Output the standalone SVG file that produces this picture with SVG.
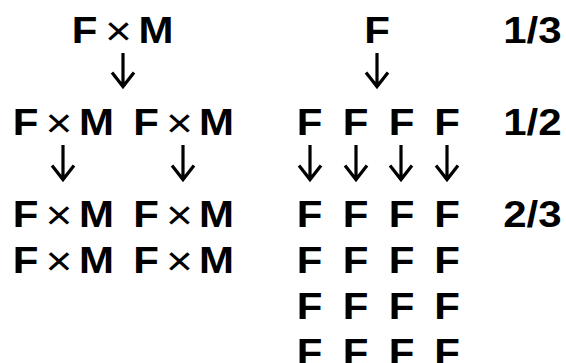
<svg xmlns="http://www.w3.org/2000/svg" width="566" height="363" viewBox="0 0 566 363">
<style>
text{font-family:"Liberation Sans",Arial,sans-serif;font-size:36.5px;fill:#000;text-anchor:middle}
.b{font-weight:bold}
.x{font-weight:normal;font-size:40px}
.fr{font-weight:bold;text-anchor:end}
.arr{fill:none;stroke:#000;stroke-width:3.2;stroke-linejoin:miter}
</style>
<rect width="566" height="363" fill="#fff"/>
<g id="cross-top" transform="scale(1.15,1)"><text class="b" x="73.48" y="43">F</text><text class="x" x="103.04" y="45.5">×</text><text class="b" x="135.65" y="43">M</text></g>
<g id="cross-r2a" transform="scale(1.15,1)"><text class="b" x="22.17" y="135">F</text><text class="x" x="51.3" y="137.5">×</text><text class="b" x="83.91" y="135">M</text></g>
<g id="cross-r2b" transform="scale(1.15,1)"><text class="b" x="126.96" y="135">F</text><text class="x" x="156.09" y="137.5">×</text><text class="b" x="188.26" y="135">M</text></g>
<g id="cross-r3a" transform="scale(1.15,1)"><text class="b" x="22.17" y="227">F</text><text class="x" x="51.3" y="229.5">×</text><text class="b" x="83.91" y="227">M</text></g>
<g id="cross-r3b" transform="scale(1.15,1)"><text class="b" x="126.96" y="227">F</text><text class="x" x="156.09" y="229.5">×</text><text class="b" x="188.26" y="227">M</text></g>
<g id="cross-r4a" transform="scale(1.15,1)"><text class="b" x="22.17" y="273">F</text><text class="x" x="51.3" y="275.5">×</text><text class="b" x="83.91" y="273">M</text></g>
<g id="cross-r4b" transform="scale(1.15,1)"><text class="b" x="126.96" y="273">F</text><text class="x" x="156.09" y="275.5">×</text><text class="b" x="188.26" y="273">M</text></g>
<g id="f-top" transform="scale(1.15,1)"><text class="b" x="327.83" y="43">F</text></g>
<g id="f-r2" transform="scale(1.15,1)"><text class="b" x="269.13" y="135">F</text><text class="b" x="309.13" y="135">F</text><text class="b" x="349.13" y="135">F</text><text class="b" x="388.7" y="135">F</text></g>
<g id="f-r3" transform="scale(1.15,1)"><text class="b" x="269.13" y="227">F</text><text class="b" x="309.13" y="227">F</text><text class="b" x="349.13" y="227">F</text><text class="b" x="388.7" y="227">F</text></g>
<g id="f-r4" transform="scale(1.15,1)"><text class="b" x="269.13" y="273">F</text><text class="b" x="309.13" y="273">F</text><text class="b" x="349.13" y="273">F</text><text class="b" x="388.7" y="273">F</text></g>
<g id="f-r5" transform="scale(1.15,1)"><text class="b" x="269.13" y="319">F</text><text class="b" x="309.13" y="319">F</text><text class="b" x="349.13" y="319">F</text><text class="b" x="388.7" y="319">F</text></g>
<g id="f-r6" transform="scale(1.15,1)"><text class="b" x="269.13" y="365">F</text><text class="b" x="309.13" y="365">F</text><text class="b" x="349.13" y="365">F</text><text class="b" x="388.7" y="365">F</text></g>
<g id="frac-1" transform="scale(1.15,1)"><text class="fr" x="488.3" y="43">1/3</text></g>
<g id="frac-2" transform="scale(1.15,1)"><text class="fr" x="488.3" y="135">1/2</text></g>
<g id="frac-3" transform="scale(1.15,1)"><text class="fr" x="488.3" y="227">2/3</text></g>
<g id="connectors">
<path class="arr" d="M123 53V85M112 72.6L123 86.6L134 72.6"/>
<path class="arr" d="M377 53V85M366 72.6L377 86.6L388 72.6"/>
<path class="arr" d="M63 145V178M52 165.6L63 179.6L74 165.6"/>
<path class="arr" d="M183 145V178M172 165.6L183 179.6L194 165.6"/>
<path class="arr" d="M310 145V178M299 165.6L310 179.6L321 165.6"/>
<path class="arr" d="M356 145V178M345 165.6L356 179.6L367 165.6"/>
<path class="arr" d="M401 145V178M390 165.6L401 179.6L412 165.6"/>
<path class="arr" d="M447 145V178M436 165.6L447 179.6L458 165.6"/>
</g>
</svg>
